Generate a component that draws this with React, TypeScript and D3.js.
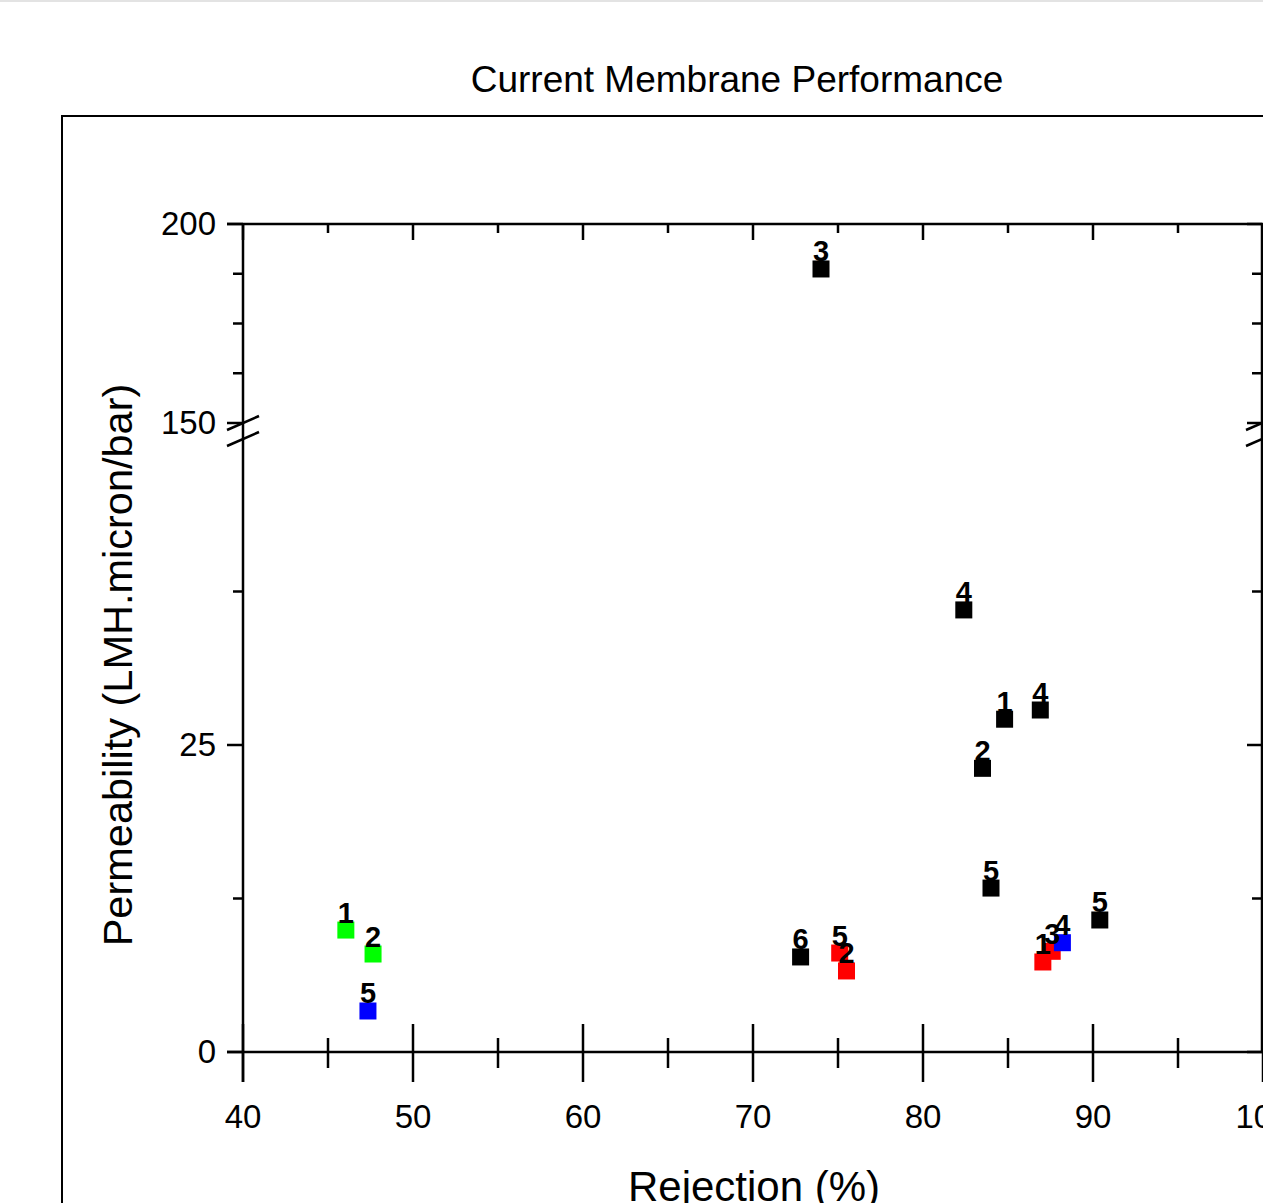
import * as d3 from "d3";
import { useEffect, useRef } from "react";

// Sample data
const blackX = [74.0, 82.4, 84.8, 86.9, 83.5, 84.0, 90.4, 72.8];
const blackY = [188.7, 36.0, 27.1, 27.85, 23.1, 13.35, 10.75, 7.74];
const blackLabels = ["3", "4", "1", "4", "2", "5", "5", "6"];

const redX = [75.1, 75.5, 87.6, 87.05];
const redY = [8.06, 6.6, 8.2, 7.33];
const redLabels = ["5", "2", "3", "1"];

const greenX = [46.05, 47.65];
const greenY = [9.93, 7.98];
const greenLabels = ["1", "2"];

const blueX = [47.35, 88.2];
const blueY = [3.34, 8.9];
const blueLabels = ["5", "4"];

const xMajorTicks = [40, 50, 60, 70, 80, 90, 100];
const xMinorTicks = [45, 55, 65, 75, 85, 95];
const yLowMajor = [0, 25];
const yLowMinor = [12.5, 37.5];
const yHighMajor = [150, 200];
const yHighMinor = [162.5, 175, 187.5];

const WIDTH = 1263;
const HEIGHT = 1203;
const FONT = "'Liberation Sans', Arial, sans-serif";

const Chart = () => {
  const svgRef = useRef(null);

  const initChart = () => {
    const svg = d3.select(svgRef.current);
    svg.selectAll("*").remove();

    const x = d3.scaleLinear().domain([40, 100]).range([243, 1263]);
    const yLow = d3.scaleLinear().domain([0, 50]).range([1052, 438]);
    const yHigh = d3.scaleLinear().domain([150, 200]).range([423, 224]);
    const y = (v) => (v >= 100 ? yHigh(v) : yLow(v));

    const left = x(40);
    const right = x(100) - 1;
    const top = yHigh(200);
    const zero = yLow(0);

    // page edge line + outer frame
    svg.append("rect").attr("x", 0).attr("y", 0).attr("width", WIDTH).attr("height", 2).attr("fill", "#e3e3e3");
    svg
      .append("rect")
      .attr("x", 62)
      .attr("y", 116)
      .attr("width", 1400)
      .attr("height", 1400)
      .attr("fill", "none")
      .attr("stroke", "black")
      .attr("stroke-width", 2);

    svg
      .append("text")
      .attr("x", 737)
      .attr("y", 92)
      .attr("text-anchor", "middle")
      .attr("font-family", FONT)
      .attr("font-size", 37)
      .text("Current Membrane Performance");

    const g = svg.append("g").attr("stroke", "black").attr("stroke-width", 2.5).attr("fill", "none");

    // axis lines
    g.append("line").attr("x1", left).attr("x2", left).attr("y1", top).attr("y2", zero + 30);
    g.append("line").attr("x1", right).attr("x2", right).attr("y1", top).attr("y2", zero);
    g.append("line").attr("x1", left - 16).attr("x2", WIDTH).attr("y1", top).attr("y2", top);
    g.append("line").attr("x1", left - 16).attr("x2", WIDTH).attr("y1", zero).attr("y2", zero);

    // x ticks (bottom: both sides, top: inward)
    xMajorTicks.forEach((t) => {
      g.append("line").attr("x1", x(t)).attr("x2", x(t)).attr("y1", zero - 28).attr("y2", zero + 30);
      g.append("line").attr("x1", x(t)).attr("x2", x(t)).attr("y1", top).attr("y2", top + 16);
    });
    xMinorTicks.forEach((t) => {
      g.append("line").attr("x1", x(t)).attr("x2", x(t)).attr("y1", zero - 14).attr("y2", zero + 16);
      g.append("line").attr("x1", x(t)).attr("x2", x(t)).attr("y1", top).attr("y2", top + 9);
    });

    // y ticks (left: outward, right: inward)
    const yMajor = [...yLowMajor.map(yLow), ...yHighMajor.map(yHigh)];
    const yMinor = [...yLowMinor.map(yLow), ...yHighMinor.map(yHigh)];
    yMajor.forEach((p) => {
      g.append("line").attr("x1", left - 16).attr("x2", left).attr("y1", p).attr("y2", p);
      g.append("line").attr("x1", right - 15).attr("x2", right).attr("y1", p).attr("y2", p);
    });
    yMinor.forEach((p) => {
      g.append("line").attr("x1", left - 10).attr("x2", left).attr("y1", p).attr("y2", p);
      g.append("line").attr("x1", right - 10).attr("x2", right).attr("y1", p).attr("y2", p);
    });

    // axis break marks
    const breakY = [yHigh(150), yLow(50) + 1];
    [left, right].forEach((ax) => {
      breakY.forEach((by) => {
        svg
          .append("line")
          .attr("x1", ax - 16)
          .attr("x2", ax + 16)
          .attr("y1", by + 7)
          .attr("y2", by - 7)
          .attr("stroke", "black")
          .attr("stroke-width", 2.5);
      });
    });

    // tick labels
    const labels = svg.append("g").attr("font-family", FONT).attr("font-size", 33).attr("fill", "black");
    xMajorTicks.forEach((t) => {
      labels.append("text").attr("x", x(t)).attr("y", 1128).attr("text-anchor", "middle").text(t);
    });
    [...yLowMajor.map((t) => [t, yLow(t)]), ...yHighMajor.map((t) => [t, yHigh(t)])].forEach(([t, p]) => {
      labels
        .append("text")
        .attr("x", 216)
        .attr("y", p)
        .attr("dy", "0.33em")
        .attr("text-anchor", "end")
        .text(t);
    });

    // axis titles
    svg
      .append("text")
      .attr("transform", "translate(132,665) rotate(-90)")
      .attr("text-anchor", "middle")
      .attr("font-family", FONT)
      .attr("font-size", 41.5)
      .text("Permeability (LMH.micron/bar)");
    svg
      .append("text")
      .attr("x", 754)
      .attr("y", 1201)
      .attr("text-anchor", "middle")
      .attr("font-family", FONT)
      .attr("font-size", 42)
      .text("Rejection (%)");

    // points
    const series = [
      { xs: blackX, ys: blackY, names: blackLabels, color: "#000000" },
      { xs: redX, ys: redY, names: redLabels, color: "#ff0000" },
      { xs: greenX, ys: greenY, names: greenLabels, color: "#00ff00" },
      { xs: blueX, ys: blueY, names: blueLabels, color: "#0000ff" },
    ];
    const S = 17;
    series.forEach((s) => {
      s.xs.forEach((v, i) => {
        svg
          .append("rect")
          .attr("x", x(v) - S / 2)
          .attr("y", y(s.ys[i]) - S / 2)
          .attr("width", S)
          .attr("height", S)
          .attr("fill", s.color);
      });
    });
    series.forEach((s) => {
      s.xs.forEach((v, i) => {
        svg
          .append("text")
          .attr("x", x(v))
          .attr("y", y(s.ys[i]) - S / 2 + 1)
          .attr("text-anchor", "middle")
          .attr("font-family", FONT)
          .attr("font-weight", "bold")
          .attr("font-size", 29)
          .attr("fill", "black")
          .text(s.names[i]);
      });
    });
  };

  useEffect(() => {
    document.body.style.margin = "0";
    initChart();
  }, []);

  return <svg ref={svgRef} width={WIDTH} height={HEIGHT} style={{ display: "block" }}></svg>;
};

export default function App() {
  return <Chart />;
}
